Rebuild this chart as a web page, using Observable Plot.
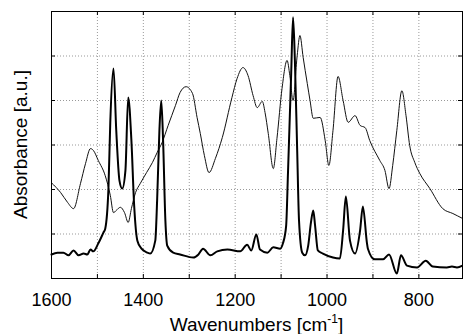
<!DOCTYPE html>
<html><head><meta charset="utf-8">
<script src="https://cdn.jsdelivr.net/npm/d3@7"></script>
<script src="https://cdn.jsdelivr.net/npm/@observablehq/plot@0.6"></script>
<style>body{margin:0;background:#fff}</style>
</head><body><div id="chart"></div>
<script>
// Thick spectrum (sharp bands)
const thickWn = [1600,1587,1574,1563,1552,1541,1530,1522,1515,1509,1498,1487,1483,1476,1472,1465,1459,1452,1446,1439,1433,1426,1420,1413,1404,1391,1385,1374,1370,1365,1361,1357,1352,1348,1335,1320,1291,1280,1270,1254,1239,1217,1189,1174,1165,1154,1146,1130,1117,1102,1096,1089,1085,1078,1074,1070,1065,1061,1054,1048,1041,1035,1030,1026,1020,1009,987,972,965,959,950,939,928,922,913,911,896,878,865,848,839,826,804,785,770,739,728,717,705];
const thickAbs = [0.54,0.58,0.58,0.52,0.63,0.52,0.56,0.54,0.65,0.61,0.79,1.03,1.12,2.02,3.51,4.72,3.33,2.20,2.02,2.43,4.07,3.10,1.64,0.85,0.67,0.58,0.56,0.85,1.75,3.33,4.00,3.10,1.30,0.74,0.58,0.54,0.47,0.54,0.67,0.52,0.61,0.65,0.61,0.76,0.63,0.99,0.65,0.58,0.70,0.67,0.79,1.19,2.38,4.63,5.87,4.90,2.88,1.30,0.58,0.52,0.74,1.26,1.53,1.19,0.63,0.56,0.47,0.45,1.08,1.84,0.85,0.56,1.08,1.62,0.79,0.67,0.43,0.43,0.54,0.11,0.52,0.29,0.25,0.40,0.27,0.25,0.27,0.25,0.29];
// Thin spectrum (broad bands)
const thinWn = [1600,1580,1565,1552,1537,1526,1515,1509,1498,1483,1472,1465,1459,1450,1441,1433,1426,1417,1407,1393,1380,1370,1359,1346,1330,1320,1307,1293,1283,1276,1267,1257,1243,1228,1207,1196,1183,1172,1161,1152,1141,1135,1128,1117,1109,1098,1087,1081,1074,1065,1059,1052,1043,1037,1030,1015,1004,996,987,976,965,954,939,928,917,907,885,874,865,857,848,837,828,820,809,798,776,748,726,705];
const thinAbs = [2.15,1.93,1.71,1.57,2.13,2.58,2.92,2.88,2.65,2.31,1.87,1.48,1.53,1.60,1.48,1.26,1.57,1.93,2.13,2.38,2.61,2.83,3.06,3.44,3.89,4.18,4.31,4.16,3.62,3.26,2.76,2.38,2.70,3.17,4.07,4.49,4.74,4.56,4.11,3.84,3.98,3.73,3.26,2.47,3.15,4.27,4.90,4.56,4.00,5.01,5.46,4.97,4.38,4.00,3.60,3.62,3.10,2.54,3.33,4.54,4.00,3.51,3.66,3.44,3.39,3.10,2.65,2.43,2.02,2.54,3.33,4.22,3.66,2.99,2.61,2.36,2.02,1.57,1.46,1.35];

const xTickLabels = [1600, 1400, 1200, 1000, 800];
const xTicks = [1600, 1500, 1400, 1300, 1200, 1100, 1000, 900, 800];
const xGrid = [1500, 1400, 1300, 1200, 1100, 1000, 900, 800];
const yTicks = [1, 2, 3, 4, 5];
const xTitle = "Wavenumbers [cm";
const xTitleSup = "-1";
const xTitleEnd = "]";
const yTitle = "Absorbance [a.u.]";

const thick = thickWn.map((w, i) => ({wn: w, abs: thickAbs[i]}));
const thin = thinWn.map((w, i) => ({wn: w, abs: thinAbs[i]}));

const W = 463, H = 334, mL = 51, mR = 1, mT = 11, mB = 56;
const innerW = W - mL - mR, innerH = H - mT - mB;
const font = "'Liberation Sans', Arial, Helvetica, sans-serif";

const plot = Plot.plot({
  width: W, height: H,
  marginLeft: mL, marginRight: mR, marginTop: mT, marginBottom: mB,
  style: {fontFamily: font, fontSize: "18px", background: "#fff", color: "#000"},
  x: {domain: [1600, 705], label: null},
  y: {domain: [0, 6], label: null, axis: null},
  marks: [
    Plot.gridX(xGrid, {stroke: "#999", strokeOpacity: 1, strokeDasharray: "1,2"}),
    Plot.gridY(yTicks, {stroke: "#999", strokeOpacity: 1, strokeDasharray: "1,2"}),
    Plot.line(thin, {x: "wn", y: "abs", stroke: "#111", strokeWidth: 1, curve: "monotone-x"}),
    Plot.line(thick, {x: "wn", y: "abs", stroke: "#000", strokeWidth: 2, curve: "monotone-x"}),
    Plot.tickX(xTicks, {x: d => d, insetTop: innerH - 4, stroke: "#000"}),
    Plot.tickX(xTicks, {x: d => d, insetBottom: innerH - 4, stroke: "#000"}),
    Plot.tickY(yTicks, {y: d => d, insetRight: innerW - 4, stroke: "#000"}),
    Plot.tickY(yTicks, {y: d => d, insetLeft: innerW - 4, stroke: "#000"}),
    Plot.axisX(xTickLabels, {tickSize: 0, tickPadding: 15, label: null, fontSize: 18, fill: "#000", tickFormat: d => String(d)}),
    Plot.frame({stroke: "#000", strokeWidth: 1})
  ]
});

const svg = d3.select(plot);
const xt = svg.append("text")
  .attr("x", mL + innerW / 2).attr("y", 331)
  .attr("text-anchor", "middle").attr("font-size", 19).attr("fill", "#000")
  .attr("font-family", font);
xt.append("tspan").text(xTitle);
xt.append("tspan").attr("font-size", 12).attr("dy", -8).text(xTitleSup);
xt.append("tspan").attr("dy", 8).text(xTitleEnd);

svg.append("text")
  .attr("transform", `translate(27,${mT + innerH / 2}) rotate(-90)`)
  .attr("text-anchor", "middle").attr("font-size", 19).attr("fill", "#000")
  .attr("font-family", font)
  .text(yTitle);

document.getElementById("chart").appendChild(plot);
</script>
</body></html>
